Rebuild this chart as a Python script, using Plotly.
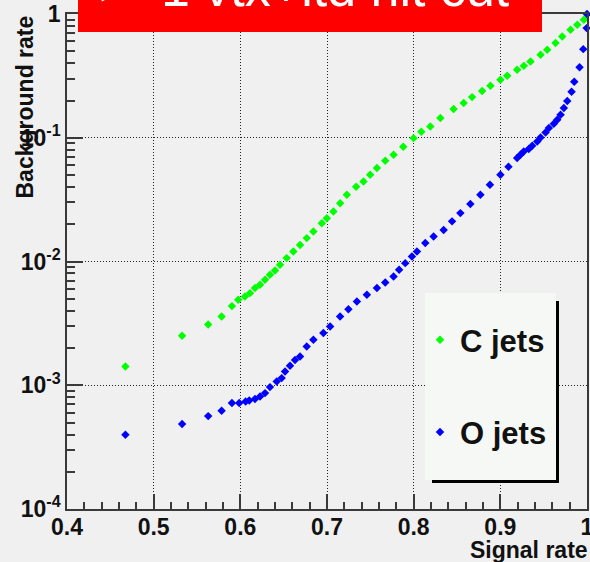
import plotly.graph_objects as go

# ROC-style curves: signal efficiency vs background rate
c_signal = [0.4674, 0.5328, 0.5629, 0.5784, 0.5903, 0.5976, 0.6053, 0.6111, 0.6169, 0.6227,
            0.6285, 0.6342, 0.6400, 0.6458, 0.6535, 0.6612, 0.6689, 0.6766, 0.6843, 0.6940,
            0.6998, 0.7074, 0.7152, 0.7229, 0.7336, 0.7421, 0.7498, 0.7576, 0.7672, 0.7768,
            0.7880, 0.7999, 0.8088, 0.8192, 0.8308, 0.8461, 0.8577, 0.8674, 0.8790, 0.8886,
            0.9001, 0.9079, 0.9194, 0.9271, 0.9348, 0.9464, 0.9541, 0.9637, 0.9714, 0.9810,
            0.9888, 0.9964, 1.0000]
c_background = [1.42e-3, 2.51e-3, 3.10e-3, 3.60e-3, 4.36e-3, 4.91e-3, 5.21e-3, 5.55e-3, 6.10e-3, 6.49e-3,
                7.12e-3, 7.81e-3, 8.46e-3, 9.40e-3, 1.065e-2, 1.205e-2, 1.36e-2, 1.545e-2, 1.75e-2, 2.04e-2,
                2.24e-2, 2.54e-2, 2.96e-2, 3.46e-2, 4.02e-2, 4.43e-2, 5.02e-2, 5.69e-2, 6.52e-2, 7.28e-2,
                8.45e-2, 9.93e-2, 0.1117, 0.1233, 0.1443, 0.1705, 0.1906, 0.213, 0.239, 0.263,
                0.294, 0.317, 0.354, 0.381, 0.413, 0.468, 0.514, 0.582, 0.658, 0.745,
                0.818, 0.898, 0.99]

o_signal = [0.4674, 0.5328, 0.5629, 0.5784, 0.5903, 0.5987, 0.6061, 0.6103, 0.6169, 0.6227,
            0.6285, 0.6342, 0.6420, 0.6477, 0.6516, 0.6573, 0.6631, 0.6689, 0.6766, 0.6843,
            0.6958, 0.7036, 0.7151, 0.7247, 0.7345, 0.7460, 0.7576, 0.7672, 0.7768, 0.7832,
            0.7903, 0.7980, 0.8038, 0.8134, 0.8230, 0.8346, 0.8443, 0.8539, 0.8654, 0.8770,
            0.8880, 0.9001, 0.9094, 0.9194, 0.9232, 0.9270, 0.9328, 0.9368, 0.9426, 0.9464,
            0.9522, 0.9560, 0.9617, 0.9657, 0.9695, 0.9733, 0.9772, 0.9822, 0.9853, 0.9914,
            0.9957, 0.9996, 1.0000]
o_background = [3.98e-4, 4.86e-4, 5.63e-4, 6.22e-4, 7.18e-4, 7.18e-4, 7.40e-4, 7.54e-4, 7.73e-4, 8.11e-4,
                8.64e-4, 9.66e-4, 1.072e-3, 1.142e-3, 1.29e-3, 1.435e-3, 1.60e-3, 1.71e-3, 2.06e-3, 2.33e-3,
                2.64e-3, 2.98e-3, 3.60e-3, 4.12e-3, 4.75e-3, 5.38e-3, 6.10e-3, 6.76e-3, 7.57e-3, 8.57e-3,
                9.70e-3, 1.097e-2, 1.205e-2, 1.41e-2, 1.59e-2, 1.80e-2, 2.11e-2, 2.46e-2, 2.92e-2, 3.46e-2,
                4.17e-2, 5.02e-2, 5.82e-2, 6.85e-2, 7.28e-2, 7.74e-2, 8.10e-2, 8.61e-2, 9.33e-2, 0.1005,
                0.1103, 0.1197, 0.1297, 0.1397, 0.1533, 0.1737, 0.1978, 0.235, 0.283, 0.372,
                0.520, 0.769, 1.0]

x_ticks = [0.4, 0.5, 0.6, 0.7, 0.8, 0.9, 1.0]
x_ticktext = ["0.4", "0.5", "0.6", "0.7", "0.8", "0.9", "1"]
y_ticks = [1e-4, 1e-3, 1e-2, 1e-1, 1]
y_ticktext = ["10<sup>-4</sup>", "10<sup>-3</sup>", "10<sup>-2</sup>", "10<sup>-1</sup>", "1"]

FONT = "Liberation Sans, Arial, Helvetica, sans-serif"
BG = "#f0f0f0"
AX = "#3a3a3a"

# pixel geometry of the frame
W, H = 590, 562
L, R, T, B = 67, 3, 14, 53
PW, PH = W - L - R, H - T - B


def px(xp):
    return (xp - L) / PW


def py(yp):
    return (H - B - yp) / PH


fig = go.Figure()
fig.add_trace(go.Scatter(
    x=c_signal, y=c_background, mode="markers", name="<b>C jets</b>",
    legendgroup="c", cliponaxis=False,
    marker=dict(symbol="diamond", size=6.5, color="#00ff00", line=dict(width=0)),
))
fig.add_trace(go.Scatter(
    x=o_signal, y=o_background, mode="markers", name="<b>O jets</b>",
    legendgroup="o", cliponaxis=False,
    marker=dict(symbol="diamond", size=6.5, color="#0000ff", line=dict(width=0)),
))

axis_common = dict(
    showline=True, mirror=True, linecolor=AX, linewidth=1.5,
    ticks="inside", tickcolor=AX, tickwidth=1.5,
    showgrid=True, gridcolor="#222222", gridwidth=1, griddash="1px,2px",
    zeroline=False, ticklabeloverflow="allow", automargin=False,
)

fig.update_xaxes(
    range=[0.4, 1.0], tickmode="array", tickvals=x_ticks, ticktext=x_ticktext,
    ticklen=15, tickfont=dict(family=FONT, size=23, color="#111", weight="bold"),
    ticklabelstandoff=-3,
    minor=dict(tick0=0.4, dtick=0.02, ticks="inside", ticklen=7, tickwidth=1.5,
               tickcolor=AX, showgrid=False),
    **axis_common,
)
fig.update_yaxes(
    type="log", range=[-4, 0], tickmode="array", tickvals=y_ticks, ticktext=y_ticktext,
    ticklen=16, tickfont=dict(family=FONT, size=23, color="#111", weight="bold"),
    minor=dict(tickmode="array",
               tickvals=[k * 10.0 ** e for e in range(-4, 0) for k in range(2, 10)],
               ticks="inside", ticklen=8, tickwidth=1.5, tickcolor=AX, showgrid=False),
    **axis_common,
)

shapes = [
    # banner
    dict(type="rect", xref="paper", yref="paper", x0=px(78), x1=px(542), y0=py(32), y1=py(-5),
         fillcolor="#ff0000", line=dict(width=0), layer="above"),
    # legend shadow and box
    dict(type="rect", xref="paper", yref="paper", x0=px(432), x1=px(559), y0=py(483), y1=py(301),
         fillcolor="#000000", line=dict(width=0), layer="above"),
    dict(type="rect", xref="paper", yref="paper", x0=px(425), x1=px(556), y0=py(480), y1=py(293),
         fillcolor="#f6f8f5", line=dict(width=0), layer="above"),
]

annotations = [
    dict(text="\u25ba", xref="paper", yref="paper", x=px(92), y=py(11), xanchor="left",
         yanchor="bottom", showarrow=False, font=dict(family=FONT, size=40, color="white")),
    dict(text="1 vtx+ltd hit cut", xref="paper", yref="paper", x=px(159), y=py(19),
         xanchor="left", yanchor="bottom", showarrow=False,
         font=dict(family=FONT, size=52, color="white")),
    dict(text="<b>Signal rate</b>", xref="paper", yref="paper", x=px(590), y=py(565),
         xanchor="right", yanchor="bottom", showarrow=False,
         font=dict(family=FONT, size=23, color="#111")),
    dict(text="<b>Background rate</b>", xref="paper", yref="paper", x=px(24), y=py(14),
         xanchor="center", yanchor="top", textangle=-90, showarrow=False,
         font=dict(family=FONT, size=23, color="#111")),
]

fig.update_layout(
    width=W, height=H,
    margin=dict(l=L, r=R, t=T, b=B, autoexpand=False),
    paper_bgcolor=BG, plot_bgcolor=BG,
    shapes=shapes, annotations=annotations,
    showlegend=True,
    legend=dict(x=px(420), y=py(313), xanchor="left", yanchor="top",
                bgcolor="rgba(0,0,0,0)", borderwidth=0,
                traceorder="grouped", tracegroupgap=49, itemwidth=30,
                font=dict(family=FONT, size=31, color="#111")),
)

fig.write_html("out.html")
